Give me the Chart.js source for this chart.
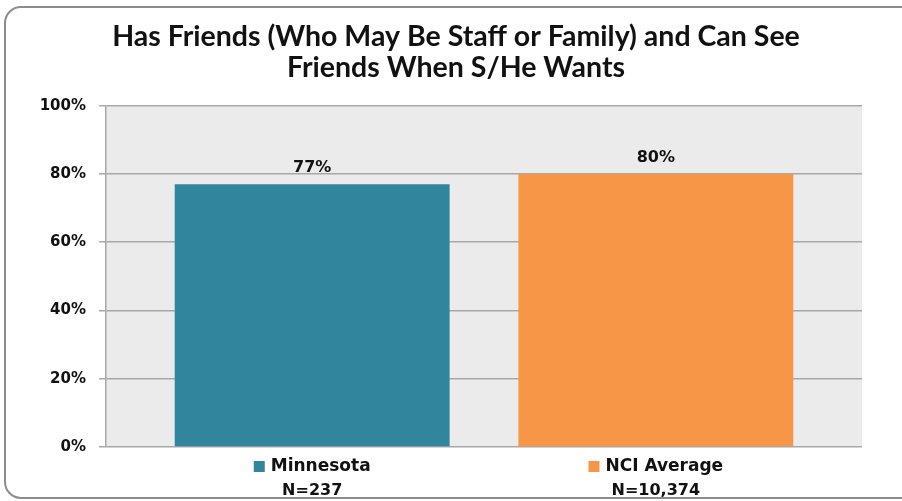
<!DOCTYPE html>
<html>
<head>
<meta charset="utf-8">
<script src="https://cdn.jsdelivr.net/npm/chart.js@4/dist/chart.umd.min.js"></script>
<style>
    html, body { margin: 0; padding: 0; background: #fff; overflow: hidden; }
    #wrap { width: 902px; height: 501px; }
</style>
</head>
<body>
<div id="wrap"><canvas id="chart" width="902" height="501"></canvas></div>
<script>
// data
const categories = ['Minnesota', 'NCI Average'];
const sampleSizes = ['N=237', 'N=10,374'];
const percentValues = [77, 80];
const barColors = ['#31859C', '#F79646'];
const yTicks = [0, 20, 40, 60, 80, 100];
const titleLines = ['Has Friends (Who May Be Staff or Family) and Can See', 'Friends When S/He Wants'];

// frame round the whole picture + grey plot background
const backgroundPlugin = {
    id: 'background',
    beforeDraw(chart) {
        const ctx = chart.ctx;
        const a = chart.chartArea;
        ctx.save();
        ctx.strokeStyle = '#8C8C8C';
        ctx.lineWidth = 2;
        ctx.beginPath();
        ctx.roundRect(5, 7, 1000, 491, 16);
        ctx.stroke();
        ctx.fillStyle = '#EBEBEB';
        ctx.fillRect(a.left, a.top, a.right - a.left, a.bottom - a.top);
        ctx.restore();
    }
};

// value labels above bars and the category labels under the axis
const labelPlugin = {
    id: 'labels',
    afterDatasetsDraw(chart) {
        const ctx = chart.ctx;
        const meta = chart.getDatasetMeta(0);
        const xScale = chart.scales.x;
        ctx.save();
        ctx.fillStyle = '#111';
        ctx.font = 'bold 16px "DejaVu Sans"';
        ctx.textAlign = 'center';
        ctx.textBaseline = 'alphabetic';
        meta.data.forEach((bar, i) => {
            ctx.fillText(percentValues[i] + '%', bar.x, bar.y - 12);
        });

        categories.forEach((name, i) => {
            const cx = xScale.getPixelForValue(i);
            ctx.font = 'bold 17px "DejaVu Sans"';
            const w = ctx.measureText(name).width;
            const box = 11, gap = 6;
            const start = cx - (box + gap + w) / 2;
            ctx.fillStyle = barColors[i];
            ctx.fillRect(start, 461, box, box);
            ctx.fillStyle = '#111';
            ctx.textAlign = 'left';
            ctx.textBaseline = 'middle';
            ctx.fillText(name, start + box + gap, 467);
            ctx.font = 'bold 16px "DejaVu Sans"';
            ctx.textAlign = 'center';
            ctx.fillText(sampleSizes[i], cx, 491);
        });
        ctx.restore();
    }
};

const ctx = document.getElementById('chart').getContext('2d');
new Chart(ctx, {
    type: 'bar',
    data: {
        datasets: [{
            data: categories.map((c, i) => ({ x: i, y: percentValues[i] })),
            backgroundColor: barColors,
            borderWidth: 0,
            barPercentage: 0.8,
            categoryPercentage: 1,
        }]
    },
    options: {
        responsive: false,
        animation: false,
        layout: {
            padding: { top: 0, left: 10, right: 0, bottom: 0 }
        },
        plugins: {
            legend: { display: false },
            tooltip: { enabled: false },
            title: {
                display: true,
                text: titleLines,
                color: '#111',
                font: { family: 'Lato', weight: 'bold', size: 28.5, lineHeight: 1.1 },
                padding: { top: 21, bottom: 22 },
            }
        },
        scales: {
            x: {
                type: 'linear',
                offset: false,
                min: -0.6,
                max: 1.6,
                afterBuildTicks: (s) => { s.ticks = categories.map((c, i) => ({ value: i })); },
                grid: { display: false },
                border: { display: false },
                ticks: { display: false },
                afterFit: (s) => { s.height = 54; }
            },
            y: {
                min: 0,
                max: 100,
                afterBuildTicks: (s) => { s.ticks = yTicks.map(v => ({ value: v })); },
                afterFit: (s) => { s.width = 96; },
                grid: {
                    color: '#A8A8A8',
                    lineWidth: 1.5,
                    tickLength: 7,
                },
                border: { display: true, color: '#A8A8A8', width: 1.5 },
                ticks: {
                    color: '#111',
                    padding: 13,
                    font: { family: 'DejaVu Sans', weight: 'bold', size: 15 },
                    callback: (v) => v + '%',
                }
            },
            // empty right-hand axis, only keeps the plot clear of the right edge
            yRight: {
                position: 'right',
                min: 0,
                max: 100,
                grid: { display: false },
                border: { display: false },
                ticks: { display: false },
                afterFit: (s) => { s.width = 40; }
            }
        }
    },
    plugins: [backgroundPlugin, labelPlugin]
});
</script>
</body>
</html>
